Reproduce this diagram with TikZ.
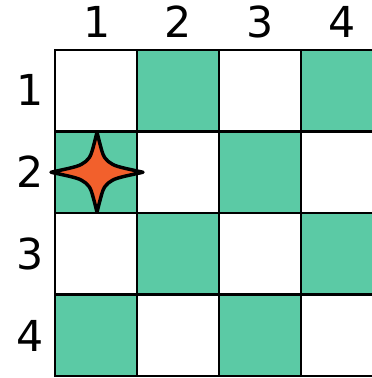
\documentclass[tikz,border=0pt]{standalone}
\usepackage{fontspec}
\setmainfont{DejaVu Sans}
\definecolor{boardgreen}{RGB}{91,202,165}
\definecolor{starorange}{RGB}{242,96,44}
\tikzset{
  cell/.style={draw=black, line width=2pt, fill=white, minimum width=82*0.75pt,
               minimum height=81.5*0.75pt, inner sep=0pt, outer sep=0pt},
  greencell/.style={cell, fill=boardgreen},
  axislabel/.style={font=\fontsize{32}{32}\selectfont, inner sep=0pt},
}
\begin{document}
\begin{tikzpicture}[x=0.75pt, y=-0.75pt]
    \useasboundingbox (0,0) rectangle (371,378);
    % board
    \node[cell]      (c11) at (96,  90.75) {};
    \node[greencell] (c12) at (178, 90.75) {};
    \node[cell]      (c13) at (260, 90.75) {};
    \node[greencell] (c14) at (342, 90.75) {};
    \node[greencell] (c21) at (96,  172.25) {};
    \node[cell]      (c22) at (178, 172.25) {};
    \node[greencell] (c23) at (260, 172.25) {};
    \node[cell]      (c24) at (342, 172.25) {};
    \node[cell]      (c31) at (96,  253.75) {};
    \node[greencell] (c32) at (178, 253.75) {};
    \node[cell]      (c33) at (260, 253.75) {};
    \node[greencell] (c34) at (342, 253.75) {};
    \node[greencell] (c41) at (96,  335.25) {};
    \node[cell]      (c42) at (178, 335.25) {};
    \node[greencell] (c43) at (260, 335.25) {};
    \node[cell]      (c44) at (342, 335.25) {};
    % labels
    \node[axislabel] (col1) at (97,  22) {1};
    \node[axislabel] (col2) at (178, 22) {2};
    \node[axislabel] (col3) at (260, 22) {3};
    \node[axislabel] (col4) at (342, 22) {4};
    \node[axislabel] (row1) at (30, 90) {1};
    \node[axislabel] (row2) at (30, 172) {2};
    \node[axislabel] (row3) at (30, 254) {3};
    \node[axislabel] (row4) at (30, 336) {4};
    % star
    \draw[fill=starorange, line width=2.6pt, line join=round, shift={(c21.center)}, xshift=0.75pt]
      (0,-40) .. controls (6,-16) .. (11,-11) .. controls (18,-6) .. (46,0)
              .. controls (18,6) .. (11,11) .. controls (6,16) .. (0,40)
              .. controls (-6,16) .. (-11,11) .. controls (-18,6) .. (-46,0)
              .. controls (-18,-6) .. (-11,-11) .. controls (-6,-16) .. cycle;
  \end{tikzpicture}
\end{document}
